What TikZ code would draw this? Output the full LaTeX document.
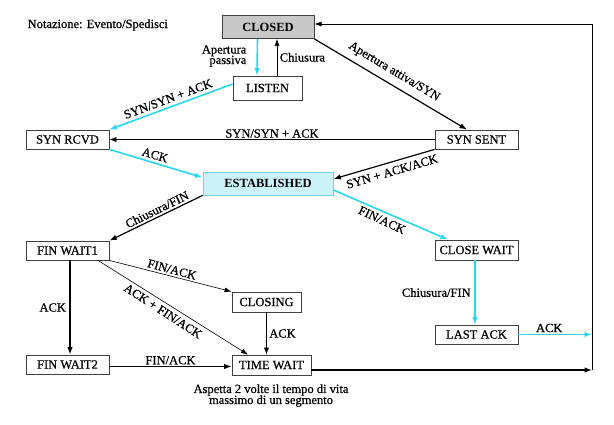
\documentclass[tikz,border=0pt]{standalone}
\usepackage{fontspec}
\setmainfont{Liberation Serif}
\newfontfamily\medfont{Liberation Serif}[FakeBold=0.7]
\usetikzlibrary{arrows.meta}
\definecolor{cy}{RGB}{40,215,240}
\definecolor{estfill}{RGB}{205,243,250}
\definecolor{estdraw}{RGB}{100,215,235}
\definecolor{closedfill}{RGB}{200,200,200}
\begin{document}
\begin{tikzpicture}[x=1pt,y=-1pt,
  state/.style={draw=black!75, line width=0.8pt, minimum height=19pt, minimum width=83pt, inner sep=1pt, font=\medfont\fontsize{12.5}{13.5}\selectfont},
  boldstate/.style={state, font=\fontsize{12.5}{13.5}\selectfont\bfseries},
  lbl/.style={font=\medfont\fontsize{12.5}{13.5}\selectfont, inner sep=1.5pt},
  blk/.style={-{Latex[length=7.5pt,width=5.5pt]}, line width=1.2pt},
  thn/.style={-{Latex[length=7pt,width=5pt]}, line width=0.6pt},
  cyn/.style={-{Latex[length=7.5pt,width=5.5pt]}, line width=1.6pt, draw=cy},
]
\useasboundingbox (0,0) rectangle (614,424);
\fill[white] (0,0) rectangle (614,424);

\node[lbl, anchor=west] (nota) at (26,25) {Notazione: Evento/Spedisci};

\node[boldstate, fill=closedfill, line width=1pt, minimum width=92pt, minimum height=23pt] (closed) at (268,27) {CLOSED};
\node[state, minimum width=69pt, minimum height=24pt] (listen) at (267.5,88) {LISTEN};
\node[state] (synrcvd) at (67.5,139.5) {SYN RCVD};
\node[state] (synsent) at (476.5,139.5) {SYN SENT};
\node[boldstate, fill=estfill, draw=estdraw, minimum width=130pt, minimum height=23pt] (est) at (268,183.5) {ESTABLISHED};
\node[state] (fw1) at (67.5,250.5) {FIN WAIT1};
\node[state, minimum height=20pt] (closewait) at (476.5,250) {CLOSE WAIT};
\node[state, minimum width=69pt, minimum height=20pt] (closing) at (266.5,302) {CLOSING};
\node[state] (fw2) at (67.5,364.5) {FIN WAIT2};
\node[state, minimum width=79pt, minimum height=20pt] (timewait) at (271.5,365) {TIME WAIT};
\node[state] (lastack) at (476.5,334.5) {LAST ACK};

\node[lbl, align=center] (note) at (271,395.5) {Aspetta 2 volte il tempo di vita\\[-2.5pt]massimo di un segmento};

\coordinate (br) at (592,370);
\coordinate (tr) at (592,24);
\coordinate (la) at (592,334.5);

% CLOSED <-> LISTEN
\draw[cyn] ([xshift=-10.5pt]closed.south) -- ([xshift=-10.5pt]listen.north);
\node[lbl, align=right, anchor=east] (lp) at (248,56) {Apertura\\[-3pt]passiva};
\draw[thn] ([xshift=9.5pt]listen.north) -- ([xshift=9pt]closed.south)
  node[lbl, midway, right, xshift=1pt] {Chiusura};

% CLOSED -> SYN SENT
\draw[blk] (closed.south east) -- ([xshift=-9.5pt]synsent.north);
\node[lbl, rotate=-31] (l1) at (394,72) {Apertura attiva/SYN};

% LISTEN -> SYN RCVD
\draw[cyn] ([yshift=4pt]listen.west) -- (synrcvd.north east);
\node[lbl, rotate=20.4] (l2) at (168,99) {SYN/SYN + ACK};

% SYN SENT -> SYN RCVD
\draw[thn] (synsent.west) -- (synrcvd.east)
  node[lbl, pos=0.5, above] {SYN/SYN + ACK};

% SYN RCVD -> ESTABLISHED
\draw[cyn] (synrcvd.south east) -- ([yshift=6pt]est.west);
\node[lbl, rotate=-16.6] (l3) at (155,155) {ACK};

% SYN SENT -> ESTABLISHED
\draw[blk] (synsent.south west) -- ([yshift=4.5pt]est.east);
\node[lbl, rotate=16.4] (l4) at (392,171.5) {SYN + ACK/ACK};

% ESTABLISHED -> FIN WAIT1
\draw[blk] (est.south west) -- (fw1.north east);
\node[lbl, rotate=26] (l5) at (157,209.5) {Chiusura/FIN};

% ESTABLISHED -> CLOSE WAIT
\draw[cyn] ([yshift=-6.5pt]est.east) -- ([xshift=-28.5pt]closewait.north);
\node[lbl, rotate=-25] (l6) at (382,220) {FIN/ACK};

% CLOSE WAIT -> LAST ACK
\draw[cyn] ([xshift=-1.5pt]closewait.south) -- ([xshift=-1.5pt]lastack.north)
  node[lbl, midway, left, xshift=-2pt] {Chiusura/FIN};

% LAST ACK -> right line
\draw[cyn] (lastack.east) -- (la)
  node[lbl, midway, above, xshift=-6pt] {ACK};

% FIN WAIT1 -> FIN WAIT2
\draw[blk] ([xshift=2.5pt]fw1.south) -- ([xshift=2.5pt]fw2.north)
  node[lbl, midway, left, xshift=-2pt] {ACK};

% FIN WAIT1 -> CLOSING
\draw[thn] (fw1.south east) -- (closing.north west);
\node[lbl, rotate=-15] (l7) at (172,269.5) {FIN/ACK};

% FIN WAIT1 -> TIME WAIT
\draw[thn] ([xshift=30.5pt]fw1.south) -- ([xshift=-23.5pt]timewait.north);
\node[lbl, rotate=-33] (l8) at (163,311) {ACK + FIN/ACK};

% CLOSING -> TIME WAIT
\draw[thn] (closing.south) -- (closing.south |- timewait.north)
  node[lbl, midway, right, xshift=1pt] {ACK};

% FIN WAIT2 -> TIME WAIT
\draw[blk] ([yshift=-2pt]fw2.east) -- ([yshift=-2pt]fw2.east -| timewait.west)
  node[lbl, midway, above] {FIN/ACK};

% TIME WAIT -> right
\draw[blk] ([yshift=-5pt]timewait.east) -- (br);

% right line back to CLOSED
\draw[thn] (br) -- (tr) -- ([yshift=3pt]closed.east);

\end{tikzpicture}
\end{document}
